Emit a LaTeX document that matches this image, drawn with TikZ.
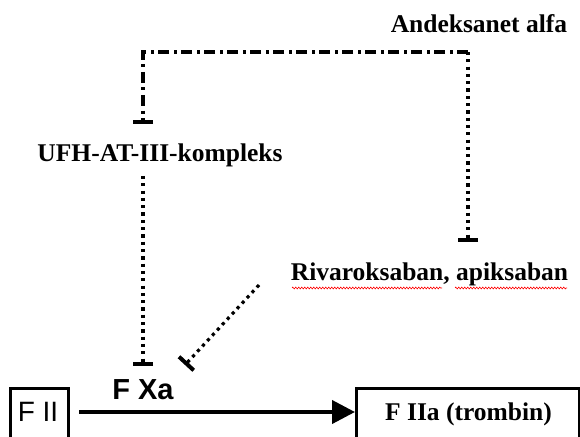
\documentclass[tikz,border=0pt]{standalone}
\usepackage{fontspec}
\setmainfont{Liberation Serif}
\newfontfamily\arialfont{Liberation Sans}
\usetikzlibrary{arrows.meta,decorations.pathmorphing}
\begin{document}
\begin{tikzpicture}[x=1bp,y=-1bp,
  lbl/.style={font=\fontsize{25.5bp}{30bp}\selectfont\bfseries, inner sep=0pt, anchor=base},
  sanslbl/.style={font=\arialfont\fontsize{28bp}{32bp}\selectfont, inner sep=0pt, anchor=base},
  sansbold/.style={font=\arialfont\bfseries\fontsize{29bp}{33bp}\selectfont, inner sep=0pt, anchor=base},
  dashdot/.style={line width=3.5bp, dash pattern=on 11bp off 4.5bp on 3bp off 4.5bp},
  dotline/.style={line width=3.2bp, dash pattern=on 3.2bp off 4.1bp},
  inhib/.style={-{Bar[width=20bp,line width=4bp]}},
  boxed/.style={draw, line width=3bp, inner sep=0pt, anchor=north west},
  act/.style={line width=4bp, -{Triangle[length=23bp,width=23bp]}},
  spell/.style={red, line width=0.6bp, decorate, decoration={zigzag, segment length=3bp, amplitude=0.9bp}}
]
\useasboundingbox (0,0) rectangle (580,437);
\clip (0,0) rectangle (580,437);

% labels
\node[lbl] (andek) at (479,33) {Andeksanet alfa};
\node[lbl] (ufh) at (160,162) {UFH-AT-III-kompleks};
\node[lbl] (riva) at (429.5,281) {Rivaroksaban, apiksaban};
\node[sansbold] (fxa) at (143,399) {F Xa};

% boxes
\node[boxed, minimum width=58bp, minimum height=80bp] (f2) at (9,387) {};
\node[sanslbl] (f2t) at (38,421) {F II};
\node[boxed, minimum width=223bp, minimum height=80bp] (f2a) at (355,387) {};
\node[lbl] (f2at) at (468.5,420) {F IIa (trombin)};

% coordinates
\coordinate (cl) at (143,52);
\coordinate (cr) at (468,52);
\coordinate (tr) at (468,242);
\coordinate (tl) at (143,124);
\coordinate (us) at (143,176);
\coordinate (ue) at (143,366);
\coordinate (rs) at (259,285);
\coordinate (re) at (185,365);
\coordinate (ay) at (0,412);

% Andeksanet alfa inhibition
\draw[dashdot, inhib] (cr) -- (cl) -- (tl);
\draw[dotline, inhib] (cr) -- (tr);

% UFH-AT-III and Rivaroksaban inhibition of F Xa
\draw[dotline, inhib] (us) -- (ue);
\draw[dotline, inhib] (rs) -- (re);

% activation arrow
\draw[act, shorten <=9bp] (f2.east |- ay) -- (f2a.west |- ay);

% spell-check underline
\draw[spell] (292,288) -- (442,288);
\draw[spell] (455,288) -- (567,288);
\end{tikzpicture}
\end{document}
